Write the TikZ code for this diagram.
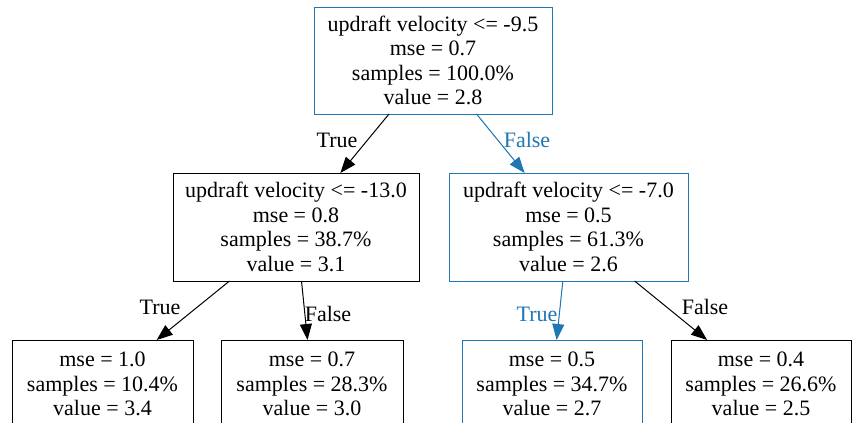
\documentclass[tikz,border=0pt]{standalone}
\usepackage{fontspec}
\setmainfont{Liberation Serif}
\usetikzlibrary{arrows.meta}
\definecolor{skblue}{RGB}{31,119,180}
\tikzset{
  tbox/.style={draw, line width=1pt, inner sep=0pt, outer sep=0pt, align=center,
    font=\fontsize{22}{24.4}\selectfont},
  bluebox/.style={tbox, draw=skblue},
  edge/.style={line width=1pt, -{Triangle[length=16pt,width=12pt]}},
  blueedge/.style={edge, draw=skblue, fill=skblue},
  elabel/.style={font=\fontsize{22}{24.4}\selectfont, inner sep=0pt}
}
\begin{document}
\begin{tikzpicture}[x=1pt,y=-1pt]
\useasboundingbox (0,0) rectangle (852,423);
\clip (0,0) rectangle (852,423);
\fill[white] (0,0) rectangle (852,423);
\node[bluebox, minimum width=238pt, minimum height=107pt] (root) at (433,60.5)
  {updraft velocity <= -9.5\\mse = 0.7\\samples = 100.0\%\\value = 2.8};
\node[tbox, minimum width=246pt, minimum height=108pt] (l) at (296,227)
  {updraft velocity <= -13.0\\mse = 0.8\\samples = 38.7\%\\value = 3.1};
\node[bluebox, minimum width=239pt, minimum height=108pt] (r) at (568.5,227)
  {updraft velocity <= -7.0\\mse = 0.5\\samples = 61.3\%\\value = 2.6};
\node[tbox, minimum width=181pt, minimum height=88pt] (ll) at (102.5,384)
  {mse = 1.0\\samples = 10.4\%\\value = 3.4};
\node[tbox, minimum width=182pt, minimum height=88pt] (lr) at (312,384)
  {mse = 0.7\\samples = 28.3\%\\value = 3.0};
\node[bluebox, minimum width=180pt, minimum height=88pt] (rl) at (552,384)
  {mse = 0.5\\samples = 34.7\%\\value = 2.7};
\node[tbox, minimum width=180pt, minimum height=88pt] (rr) at (761,384)
  {mse = 0.4\\samples = 26.6\%\\value = 2.5};
\draw[edge] (root) -- (l);
\draw[blueedge] (root) -- (r);
\draw[edge] (l) -- (ll);
\draw[edge] (l) -- (lr);
\draw[blueedge] (r) -- (rl);
\draw[edge] (r) -- (rr);
\node[elabel] (t1) at (337,140) {True};
\node[elabel, text=skblue] (f1) at (527,140) {False};
\node[elabel] (t2) at (160,307) {True};
\node[elabel] (f2) at (328,314) {False};
\node[elabel, text=skblue] (t3) at (537,314) {True};
\node[elabel] (f3) at (705,307) {False};
\end{tikzpicture}
\end{document}
